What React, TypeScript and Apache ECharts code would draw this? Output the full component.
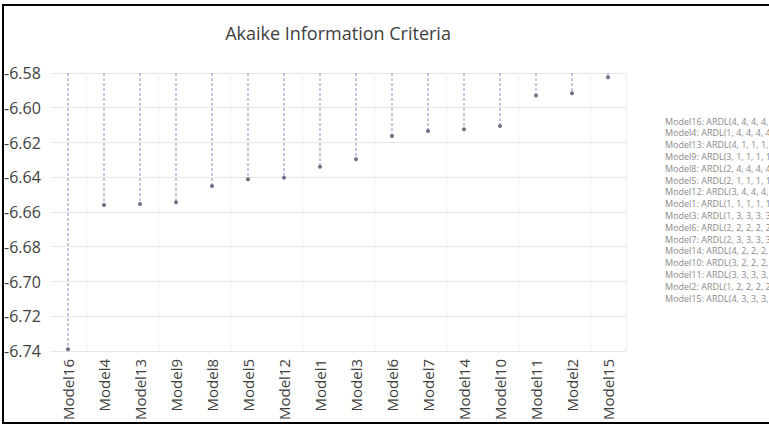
import React, { useEffect, useRef } from "react";
import * as echarts from "echarts";

const categories = [
  "Model16", "Model4", "Model13", "Model9", "Model8", "Model5", "Model12", "Model1",
  "Model3", "Model6", "Model7", "Model14", "Model10", "Model11", "Model2", "Model15",
];
const aicValues = [
  -6.739, -6.656, -6.6554, -6.6544, -6.645, -6.6412, -6.6403, -6.6339,
  -6.6297, -6.6163, -6.6134, -6.6124, -6.6105, -6.593, -6.5917, -6.5825,
];
const modelSpecs = [
  "ARDL(4, 4, 4, 4, 4, 4)", "ARDL(1, 4, 4, 4, 4, 4)", "ARDL(4, 1, 1, 1, 1, 1)", "ARDL(3, 1, 1, 1, 1, 1)",
  "ARDL(2, 4, 4, 4, 4, 4)", "ARDL(2, 1, 1, 1, 1, 1)", "ARDL(3, 4, 4, 4, 4, 4)", "ARDL(1, 1, 1, 1, 1, 1)",
  "ARDL(1, 3, 3, 3, 3, 3)", "ARDL(2, 2, 2, 2, 2, 2)", "ARDL(2, 3, 3, 3, 3, 3)", "ARDL(4, 2, 2, 2, 2, 2)",
  "ARDL(3, 2, 2, 2, 2, 2)", "ARDL(3, 3, 3, 3, 3, 3)", "ARDL(1, 2, 2, 2, 2, 2)", "ARDL(4, 3, 3, 3, 3, 3)",
];
const yTop = -6.58;
const yBottom = -6.74;
const yStep = 0.02;
const titleText = "Akaike Information Criteria";

export default function App() {
  const ref = useRef<HTMLDivElement>(null);
  useEffect(() => {
    if (!ref.current) return;
    const chart = echarts.init(ref.current, undefined, { renderer: "svg" });
    const font = "'Open Sans', 'Liberation Sans', sans-serif";
    const legendTexts = categories.map((c, i) => ({
      type: "text",
      x: 665,
      y: 121 + i * 11.8,
      style: {
        text: `${c}: ${modelSpecs[i]}`,
        fontSize: 9,
        fontFamily: font,
        fill: "#8a8a8a",
        textVerticalAlign: "middle",
      },
    }));
    chart.setOption({
      animation: false,
      backgroundColor: "#ffffff",
      grid: { left: 50, top: 73, width: 576, height: 278 },
      xAxis: {
        type: "category",
        data: categories,
        boundaryGap: true,
        axisLine: { show: false },
        axisTick: { show: false },
        axisLabel: {
          rotate: 90,
          margin: 8,
          fontSize: 15,
          fontFamily: font,
          color: "#404040",
          interval: 0,
        },
        splitLine: {
          show: true,
          interval: (index: number) => index % 2 === 1,
          lineStyle: { color: "#efefef", width: 1 },
        },
      },
      yAxis: {
        type: "value",
        min: yBottom,
        max: yTop,
        interval: yStep,
        axisLine: { show: false },
        axisTick: { show: false },
        axisLabel: {
          align: "left",
          margin: 46,
          fontSize: 16,
          fontFamily: font,
          color: "#404040",
          formatter: (v: number) => v.toFixed(2),
        },
        splitLine: { show: true, lineStyle: { color: "#e6e6e6", width: 1 } },
      },
      series: [
        {
          type: "custom",
          data: categories.map((c, i) => [i, aicValues[i]]),
          encode: { x: 0, y: 1 },
          renderItem: (params: any, api: any) => {
            const top = api.coord([api.value(0), yTop]);
            const pt = api.coord([api.value(0), api.value(1)]);
            return {
              type: "group",
              children: [
                {
                  type: "line",
                  shape: { x1: top[0], y1: top[1], x2: pt[0], y2: pt[1] },
                  style: { stroke: "#8d91c2", lineWidth: 1, lineDash: [3, 2] },
                },
                {
                  type: "circle",
                  shape: { cx: pt[0], cy: pt[1], r: 2 },
                  style: { fill: "#6e7086" },
                },
              ],
            };
          },
        },
      ],
      graphic: [
        {
          type: "text",
          x: 338,
          y: 33,
          style: {
            text: titleText,
            fontSize: 18,
            fontFamily: font,
            fill: "#404040",
            textAlign: "center",
            textVerticalAlign: "middle",
          },
        },
        ...legendTexts,
        {
          type: "rect",
          shape: { x: 3, y: 5, width: 820, height: 418 },
          style: { fill: "none", stroke: "#000000", lineWidth: 2 },
          silent: true,
        },
      ],
    });
    return () => chart.dispose();
  }, []);
  return (
    <div
      ref={ref}
      style={{ position: "fixed", left: 0, top: 0, width: 769, height: 427 }}
    />
  );
}
